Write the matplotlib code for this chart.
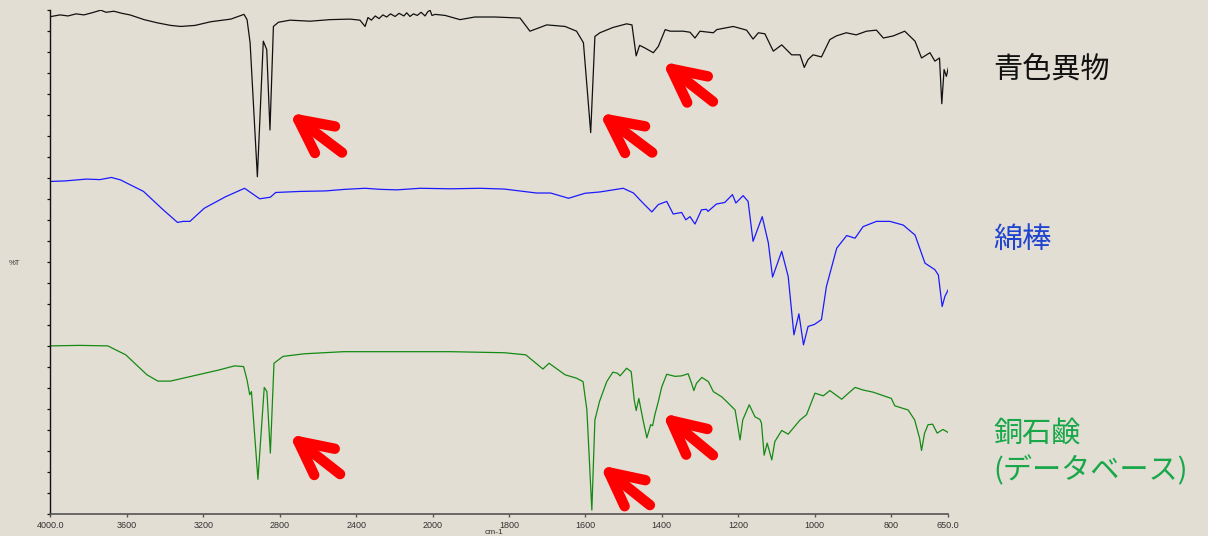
import numpy as np
import matplotlib
matplotlib.use("Agg")
import matplotlib.pyplot as plt
from matplotlib.ticker import FixedLocator, FixedFormatter, NullFormatter

# ---- spectra (wavenumber in cm-1, transmittance offset in %T) ----
black_wn = [3996, 3950, 3908, 3866, 3825, 3783, 3737, 3709, 3668, 3626, 3584, 3510,
            3442, 3371, 3318, 3243, 3161, 3056, 2987, 2971, 2955, 2917, 2886, 2868,
            2851, 2833, 2807, 2746, 2641, 2537, 2432, 2380, 2353, 2338, 2320, 2300,
            2280, 2260, 2240, 2220, 2196, 2175, 2150, 2135, 2118, 2100, 2080, 2060,
            2039, 2025, 2013, 2003, 1993, 1967, 1928, 1889, 1836, 1771, 1745, 1701,
            1653, 1623, 1605, 1586, 1575, 1562, 1528, 1492, 1478, 1467, 1458, 1444,
            1422, 1409, 1391, 1378, 1344, 1326, 1313, 1300, 1265, 1256, 1213, 1178,
            1161, 1147, 1130, 1108, 1086, 1060, 1038, 1027, 1017, 1004, 982, 960,
            943, 917, 891, 864, 838, 820, 794, 764, 737, 720, 698, 685, 673, 667,
            661, 655, 650]
black_t = [94.7, 95.0, 94.8, 95.2, 95.0, 95.4, 95.9, 95.5, 95.7, 95.3, 95.0, 94.1,
           93.5, 93.0, 92.8, 93.0, 93.7, 94.2, 95.1, 94.1, 89.7, 64.2, 90.0, 88.4,
           73.1, 92.8, 93.6, 94.0, 93.8, 94.1, 94.2, 94.0, 92.8, 94.5, 94.0, 94.8,
           94.3, 95.0, 94.6, 95.2, 94.7, 95.3, 94.8, 95.4, 94.7, 95.2, 94.9, 95.5,
           94.8, 95.6, 95.9, 94.9, 95.1, 94.9, 94.1, 94.6, 94.6, 94.4, 91.9, 93.1,
           92.8, 91.9, 89.7, 72.6, 90.9, 91.6, 92.6, 93.3, 93.1, 87.2, 89.2, 88.7,
           87.8, 89.0, 92.2, 91.9, 91.9, 91.7, 90.6, 91.9, 91.6, 92.2, 92.8, 92.1,
           90.4, 91.6, 91.4, 88.1, 89.3, 87.4, 87.4, 85.0, 86.5, 87.4, 87.0, 90.3,
           91.0, 91.6, 91.2, 91.9, 92.1, 90.6, 91.0, 91.9, 90.0, 86.8, 87.8, 86.2,
           86.8, 78.1, 84.6, 83.3, 84.9]

blue_wn = [4000, 3924, 3812, 3741, 3681, 3634, 3513, 3410, 3335, 3306, 3270, 3195,
           3083, 2984, 2905, 2849, 2821, 2694, 2559, 2458, 2353, 2275, 2186, 2065,
           1952, 1875, 1812, 1728, 1691, 1644, 1601, 1562, 1501, 1474, 1452, 1426,
           1409, 1387, 1370, 1348, 1337, 1326, 1313, 1296, 1283, 1279, 1257, 1235,
           1215, 1206, 1187, 1174, 1161, 1137, 1121, 1110, 1086, 1069, 1054, 1041,
           1029, 1017, 1000, 982, 969, 942, 916, 894, 873, 838, 803, 768, 737,
           711, 685, 676, 666, 659, 650]
blue_t = [63.3, 63.4, 63.75, 63.65, 64.06, 63.6, 61.4, 57.9, 55.5, 55.7, 55.7, 58.2,
          60.4, 62.0, 60.0, 60.3, 61.2, 61.4, 61.5, 61.8, 62.0, 61.8, 61.7, 62.0,
          61.9, 62.0, 61.85, 61.1, 61.1, 60.1, 61.05, 61.3, 62.0, 61.1, 59.4, 57.5,
          58.9, 59.5, 57.1, 57.4, 56.0, 56.6, 55.2, 57.9, 58.0, 57.6, 59.0, 59.3,
          60.8, 59.2, 60.6, 59.5, 51.9, 56.6, 51.6, 45.1, 50.0, 45.2, 34.1, 38.1,
          32.2, 35.7, 36.1, 37.0, 43.3, 50.6, 53.0, 52.5, 54.7, 55.7, 55.7, 55.0,
          53.1, 47.75, 46.5, 45.5, 39.5, 41.4, 42.7]

green_wn = [4000, 3846, 3700, 3606, 3495, 3438, 3372, 3270, 3120, 3036, 2989, 2971,
            2957, 2948, 2914, 2881, 2867, 2849, 2830, 2783, 2671, 2465, 2186, 1954,
            1812, 1756, 1711, 1695, 1653, 1623, 1606, 1596, 1583, 1575, 1563, 1544,
            1528, 1516, 1509, 1492, 1480, 1472, 1467, 1460, 1449, 1439, 1429, 1424,
            1418, 1409, 1400, 1387, 1365, 1348, 1331, 1322, 1316, 1309, 1295, 1278,
            1265, 1243, 1230, 1208, 1195, 1188, 1171, 1156, 1143, 1139, 1132, 1124,
            1112, 1104, 1086, 1069, 1038, 1021, 999, 977, 960, 929, 916, 894, 873,
            847, 799, 790, 755, 738, 725, 720, 712, 703, 691, 679, 664, 650]
green_t = [32.0, 32.1, 32.0, 30.3, 26.5, 25.3, 25.3, 26.15, 27.4, 28.2, 28.06, 25.5,
           22.7, 23.3, 6.6, 24.1, 23.3, 11.6, 28.7, 30.0, 30.5, 30.9, 30.9, 30.9,
           30.7, 30.3, 27.6, 28.7, 26.5, 25.85, 25.2, 19.8, 0.76, 17.9, 21.4, 25.2,
           27.0, 26.8, 26.3, 27.75, 27.1, 21.7, 19.7, 22.0, 17.9, 14.5, 17.0, 16.8,
           18.9, 21.4, 24.2, 26.6, 26.2, 26.3, 26.7, 24.9, 23.5, 24.9, 26.0, 25.2,
           23.3, 22.3, 21.4, 19.8, 14.1, 17.9, 20.8, 18.5, 18.0, 17.3, 11.2, 13.5,
           10.3, 13.8, 15.9, 15.2, 17.9, 18.9, 23.0, 22.5, 23.5, 21.85, 22.7, 24.1,
           23.6, 23.2, 22.0, 20.6, 19.8, 17.9, 14.4, 12.1, 15.4, 17.0, 17.1, 15.4,
           16.1, 15.5]

sample_names = ["青色異物", "綿棒", "銅石鹸", "(データベース)"]

xtick_values = [4000, 3600, 3200, 2800, 2400, 2000, 1800, 1600, 1400, 1200, 1000, 800, 650]
xtick_labels = ["4000.0", "3600", "3200", "2800", "2400", "2000", "1800", "1600",
                "1400", "1200", "1000", "800", "650.0"]

# arrows pointing at the matching bands: (tip wavenumber, tip %T, tail wavenumber, tail %T)
arrow_tip_wn = [2751, 1564, 1399, 2751, 1562, 1399]
arrow_tip_t = [76.4, 76.4, 86.1, 15.2, 9.3, 19.2]
arrow_tail_wn = [2474, 1425, 1266, 2484, 1431, 1266]
arrow_tail_t = [68.8, 68.8, 78.5, 7.6, 1.7, 11.2]

BG = "#e3ded3"


# IR abscissa: expanded by 2x below 2000 cm-1
def wn_to_pos(w):
    w = np.asarray(w, dtype=float)
    return np.where(w >= 2000, (4000 - w) * 0.5, 1000 + (2000 - w))


def pos_to_wn(p):
    p = np.asarray(p, dtype=float)
    return np.where(p <= 1000, 4000 - 2 * p, 2000 - (p - 1000))


fig = plt.figure(figsize=(12.08, 5.36), dpi=100, facecolor=BG)
ax = fig.add_axes([0.0418, 0.041, 0.7432, 0.941], facecolor=BG)
ax.set_xscale("function", functions=(wn_to_pos, pos_to_wn))
ax.set_xlim(4000, 650)
ax.set_ylim(0, 96)
# high wavenumbers on the left
if ax.transData.transform((4000, 0))[0] > ax.transData.transform((650, 0))[0]:
    ax.invert_xaxis()

ax.plot(black_wn, black_t, color="#111111", lw=0.9)
ax.plot(blue_wn, blue_t, color="#1a1aff", lw=0.9)
ax.plot(green_wn, green_t, color="#148a14", lw=0.9)

for tw, tt, sw, st in zip(arrow_tip_wn, arrow_tip_t, arrow_tail_wn, arrow_tail_t):
    ax.annotate("", xy=(tw, tt), xytext=(sw, st),
                arrowprops=dict(arrowstyle="->,head_length=1.2,head_width=0.6",
                                mutation_scale=20, lw=7.5, color="#ff0000",
                                shrinkA=0, shrinkB=0, capstyle="round",
                                joinstyle="round"))

# axes styling
for side in ("top", "right"):
    ax.spines[side].set_visible(False)
ax.spines["left"].set_color("#111111")
ax.spines["left"].set_linewidth(1.0)
ax.spines["bottom"].set_color("#555555")
ax.spines["bottom"].set_linewidth(1.2)

ax.xaxis.set_major_locator(FixedLocator(xtick_values))
ax.xaxis.set_major_formatter(FixedFormatter(xtick_labels))
ax.xaxis.set_minor_locator(FixedLocator([]))
ax.yaxis.set_major_locator(FixedLocator(np.arange(0, 97, 4)))
ax.yaxis.set_major_formatter(NullFormatter())
ax.tick_params(axis="x", direction="out", length=2.5, width=1.0, color="#555555",
               labelsize=6.5, labelcolor="#333333", pad=2.5)
ax.tick_params(axis="y", direction="out", length=2.5, width=0.9, color="#111111")
for lab in ax.get_xticklabels():
    lab.set_fontfamily("Liberation Sans")

ax.set_xlabel("cm-1", fontsize=6, color="#333333", family="Liberation Sans", va="center")
ax.xaxis.set_label_coords(0.494, -0.037)
ax.set_ylabel("%T", fontsize=5.5, color="#333333", rotation=0,
              family="Liberation Sans", ha="center", va="center")
ax.yaxis.set_label_coords(-0.0406, 0.496)

# sample labels
label_font = ["Noto Sans CJK JP", "DejaVu Sans"]
label_colors = ["#111111", "#1f44d0", "#18a84a", "#18a84a"]
label_y = [0.869, 0.552, 0.192, 0.121]
for name, col, yy in zip(sample_names, label_colors, label_y):
    fig.text(0.822, yy, name, fontsize=21, color=col, family=label_font,
             ha="left", va="center")

fig.savefig("out.png", dpi=100, facecolor=BG)
